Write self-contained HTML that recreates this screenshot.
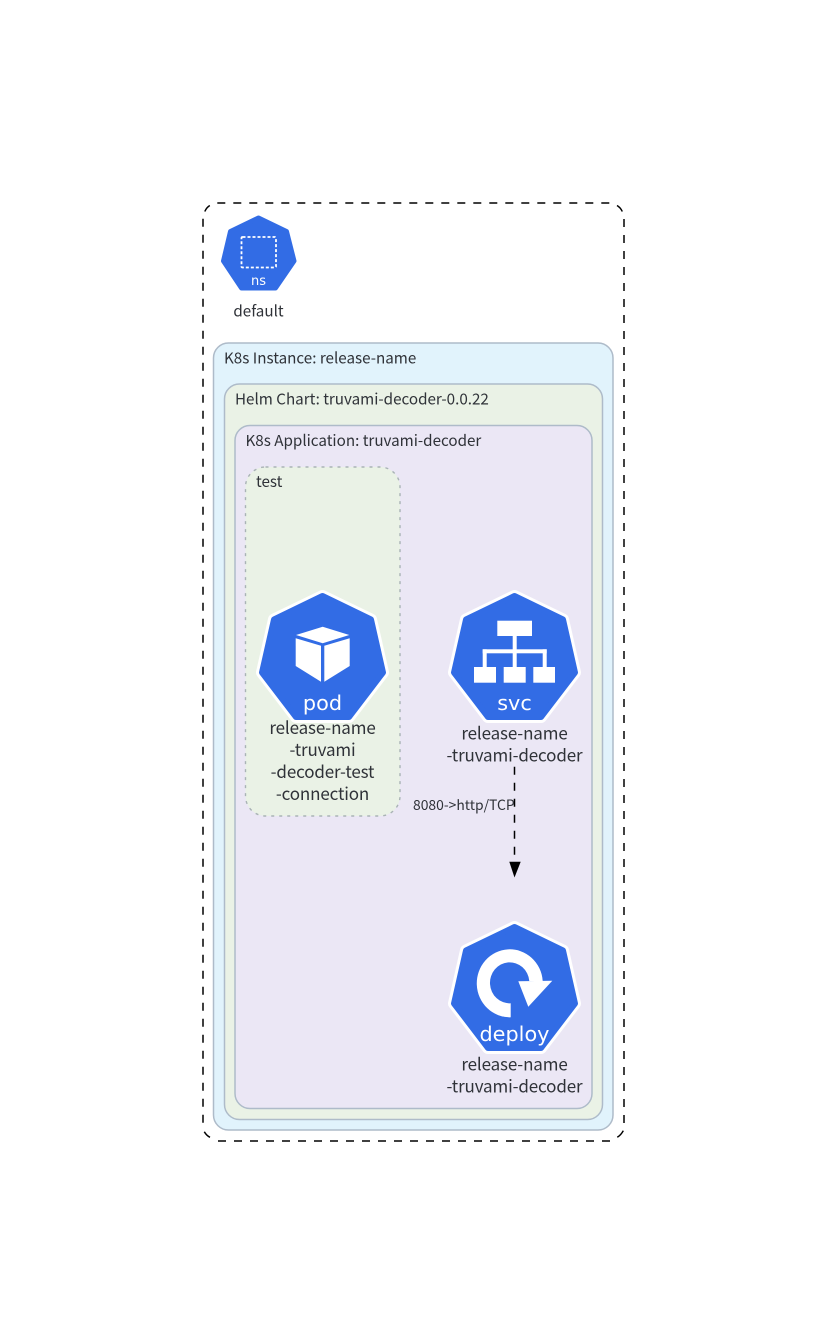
<!DOCTYPE html>
<html>
<head>
<meta charset="utf-8">
<style>
html,body{margin:0;padding:0;background:#fff}
svg{display:block}
text{font-family:"Noto Sans CJK JP","Liberation Sans",sans-serif;fill:#2f3238}
.l{font-size:15.2px}
.c{font-size:17px;letter-spacing:-0.14px;text-anchor:middle}
.w{font-family:"DejaVu Sans","Liberation Sans",sans-serif;fill:#fff;text-anchor:middle;font-size:20.8px}
.d{stroke:#000;stroke-width:1.5;stroke-dasharray:8,8;fill:none}
.k{stroke:#000;stroke-width:1.5;fill:none}
</style>
</head>
<body>
<svg width="827" height="1344" viewBox="0 0 827 1344" xmlns="http://www.w3.org/2000/svg">
<defs>
<g id="hex">
<polygon points="322.5,596 371,619.5 383,672.5 349,717 296,717 262,672.5 274,619.5" fill="#fff" stroke="#fff" stroke-width="12" stroke-linejoin="round"/>
<polygon points="322.5,596 371,619.5 383,672.5 349,717 296,717 262,672.5 274,619.5" fill="#326ce5" stroke="#326ce5" stroke-width="6" stroke-linejoin="round"/>
</g>
</defs>

<!-- outer dashed boundary -->
<line class="d" x1="217.3" y1="203" x2="610" y2="203"/>
<line class="d" x1="203" y1="218.7" x2="203" y2="1124"/>
<line class="d" x1="624" y1="219" x2="624" y2="1124"/>
<line class="d" x1="218" y1="1141" x2="611" y2="1141"/>
<path class="k" d="M204.8 211.5Q206.5 207.5 209.8 205.5"/>
<path class="k" d="M617 205.5Q620.5 207.5 622.3 211.5"/>
<path class="k" d="M204.3 1131.7Q206.5 1135.5 210 1137.3"/>
<path class="k" d="M617.3 1137.3Q621 1135 623.3 1130.7"/>

<!-- ns -->
<polygon points="258.5,218 286.5,231.5 294,261 275.5,288 241.5,288 223.5,261 230.5,231.5" fill="#326ce5" stroke="#326ce5" stroke-width="5" stroke-linejoin="round"/>
<rect x="241.5" y="237" width="34.5" height="30.5" rx="1" fill="none" stroke="#fff" stroke-width="1.8" stroke-dasharray="3,2"/>
<text class="w" style="font-size:13px" x="258.5" y="285">ns</text>
<text class="l" text-anchor="middle" x="258.5" y="316.5">default</text>

<rect x="213.5" y="343" width="399.5" height="787" rx="15" fill="#e1f3fc" stroke="#aebbc9" stroke-width="1.5"/>
<text class="l" x="224" y="363.5">K8s Instance: release-name</text>
<rect x="224.5" y="384" width="378" height="735.5" rx="15" fill="#eaf2e6" stroke="#aebbc9" stroke-width="1.5"/>
<text class="l" x="235" y="404.5">Helm Chart: truvami-decoder-0.0.22</text>
<rect x="235" y="425.5" width="357" height="683" rx="15" fill="#ebe7f5" stroke="#aebbc9" stroke-width="1.5"/>
<text class="l" x="245.5" y="446">K8s Application: truvami-decoder</text>
<rect x="245.5" y="467" width="154.5" height="349" rx="20" fill="#eaf2e6" stroke="#a9b3b5" stroke-width="1.4" stroke-dasharray="3,5"/>
<text class="l" x="256" y="487">test</text>

<!-- pod -->
<use href="#hex"/>
<polygon points="322.7,626.7 349.3,635 322.7,643.3 296,635" fill="#fff"/>
<polygon points="295.7,638.3 321,645.7 321,681.7 295.7,666" fill="#fff"/>
<polygon points="324.3,645.7 349.7,638.3 349.7,666 324.3,681.7" fill="#fff"/>
<text class="w" x="322.5" y="710">pod</text>
<text class="c" x="322.5" y="734">release-name</text>
<text class="c" x="322.5" y="756">-truvami</text>
<text class="c" x="322.5" y="778">-decoder-test</text>
<text class="c" x="322.5" y="800">-connection</text>

<!-- svc -->
<use href="#hex" transform="translate(192 0)"/>
<g fill="#fff">
<rect x="497.3" y="620.7" width="34.7" height="15.3"/>
<rect x="512.7" y="636" width="4" height="31"/>
<rect x="482.7" y="649.3" width="64" height="4"/>
<rect x="482.7" y="649.3" width="4" height="18"/>
<rect x="542.7" y="649.3" width="4" height="18"/>
<rect x="474" y="667" width="22" height="15.7"/>
<rect x="503.7" y="667" width="22" height="15.7"/>
<rect x="533.3" y="667" width="21.7" height="15.7"/>
</g>
<text class="w" x="514.5" y="710">svc</text>
<text class="c" x="514.5" y="739.5">release-name</text>
<text class="c" x="514.5" y="761.5">-truvami-decoder</text>

<!-- edge -->
<line class="d" x1="514.5" y1="766.7" x2="514.5" y2="856"/>
<polygon points="509.3,861.7 520.7,861.7 514.5,877.5" fill="#000"/>
<text x="413" y="810" style="font-size:13.9px">8080-&gt;http/TCP</text>

<!-- deploy -->
<use href="#hex" transform="translate(192 331)"/>
<path d="M510.7 1017.3A33 34 0 1 1 542.7 981L529.3 981A19.7 20.5 0 1 0 510.7 1003.3Z" fill="#fff"/>
<polygon points="518.3,981.2 552.3,980.7 528.3,1006.7" fill="#fff"/>
<text class="w" x="514.5" y="1041">deploy</text>
<text class="c" x="514.5" y="1070.5">release-name</text>
<text class="c" x="514.5" y="1092.5">-truvami-decoder</text>
</svg>
</body>
</html>
